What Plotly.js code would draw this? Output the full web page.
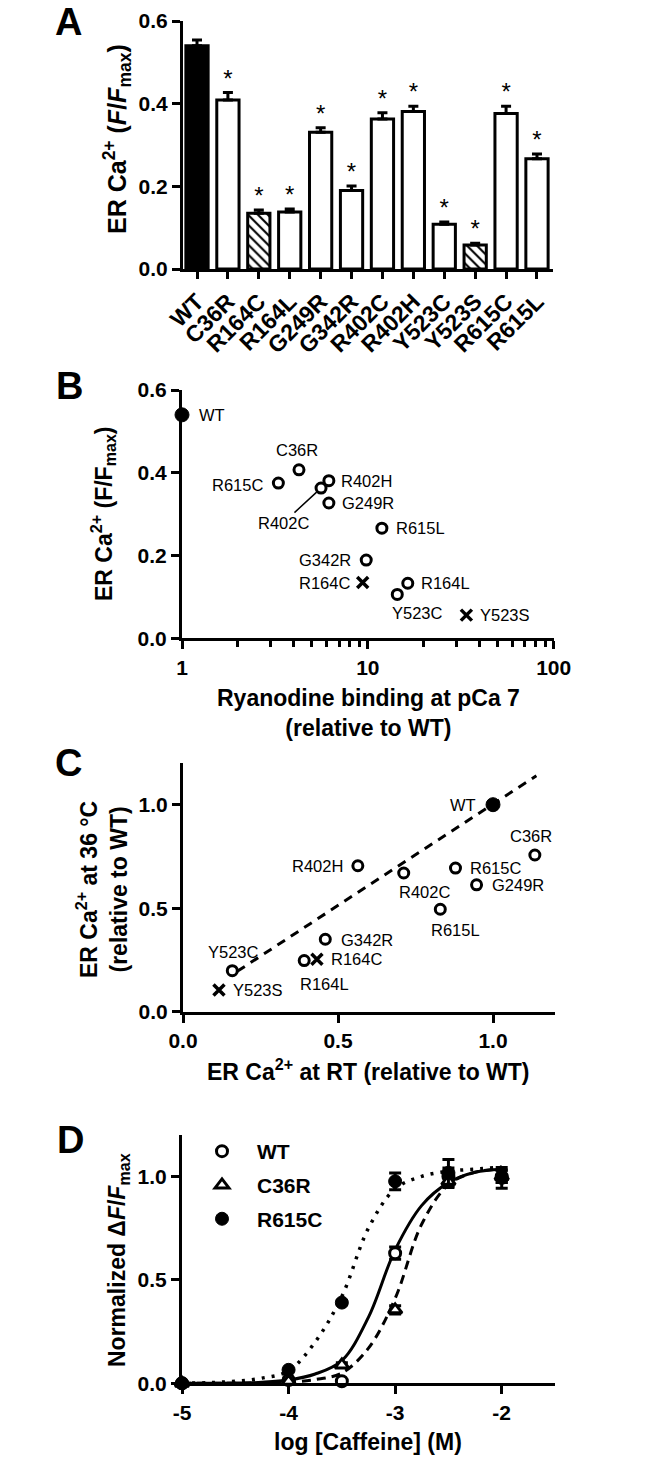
<!DOCTYPE html>
<html>
<head>
<meta charset="utf-8">
<script src="https://cdn.plot.ly/plotly-3.0.1.min.js"></script>
<style>
html,body{margin:0;padding:0;background:#ffffff;}
#chart{width:666px;height:1457px;}
</style>
</head>
<body>
<div id="chart"></div>
<script>
// ---------------- Panel A data ----------------
const categories = ['WT','C36R','R164C','R164L','G249R','G342R','R402C','R402H','Y523C','Y523S','R615C','R615L'];
const erCaRT     = [0.540,0.409,0.135,0.138,0.331,0.190,0.363,0.381,0.108,0.058,0.376,0.267];
const erCaRTsem  = [0.014,0.018,0.008,0.007,0.011,0.011,0.015,0.013,0.006,0.004,0.018,0.011];
const significant = [false,true,true,true,true,true,true,true,true,true,true,true];
const hatchedVariants = ['R164C','Y523S'];
const wildType = 'WT';

// ---------------- Panel B data ----------------
const variants   = ['WT','C36R','R615C','R402H','R402C','G249R','R615L','G342R','R164C','R164L','Y523C','Y523S'];
const ryrBinding = [1,4.26,3.3,6.17,5.6,6.17,11.9,9.8,9.38,16.4,14.4,33.9];
const erCaB      = [0.540,0.407,0.375,0.381,0.363,0.327,0.266,0.189,0.135,0.133,0.106,0.056];
const logMinorTicks = [2,3,4,5,6,7,8,9,20,30,40,50,60,70,80,90];

// ---------------- Panel C data ----------------
const erCaRTrel  = [1.0,1.135,0.879,0.564,0.712,0.947,0.830,0.459,0.432,0.391,0.159,0.116];
const erCa36rel  = [1.0,0.757,0.694,0.705,0.670,0.613,0.495,0.350,0.253,0.247,0.198,0.105];
const regressionX = [0.175,1.14];
const regressionY = [0.195,1.14];

// ---------------- Panel D data ----------------
const logCaffeine = [-5,-4,-3.5,-3,-2.5,-2];
const respWT      = [0,0.016,0.010,0.629,1.000,1.000];
const respWTsem   = [0,0.005,0.005,0.030,0.040,0.030];
const respC36R    = [0,0.010,0.089,0.355,0.976,1.000];
const respC36Rsem = [0,0.005,0.010,0.020,0.030,0.030];
const respR615C   = [0,0.065,0.390,0.976,1.017,0.993];
const respR615Csem= [0,0.005,0.010,0.040,0.065,0.050];
const fitLogCaf   = [-5,-4.75,-4.5,-4.25,-4,-3.75,-3.5,-3.25,-3,-2.75,-2.5,-2.25,-2];
const fitWT       = [0,0,0.001,0.005,0.016,0.045,0.110,0.320,0.645,0.860,0.970,1.020,1.035];
const fitC36R     = [0,0,0,0.002,0.006,0.018,0.050,0.170,0.410,0.770,0.960,1.020,1.035];
const fitR615C    = [0,0.003,0.010,0.025,0.060,0.200,0.420,0.750,0.940,1.000,1.025,1.035,1.045];
const xTickD = [-5,-4,-3,-2];
const xTickDText = ['-5','-4','-3','-2'];

// ---------------- styles ----------------
const W = 666, H = 1457;
const px = v => v / W;
const py = v => 1 - v / H;
const FONT = 'Liberation Sans, Arial, Helvetica, sans-serif';
const tickFont = {family: FONT, size: 21, color: '#000', weight: 700};
const titleFont = {family: FONT, size: 23, color: '#000', weight: 700};
const labelFont = {family: FONT, size: 16.5, color: '#000'};

const axisCommon = {
  showline: true, linewidth: 3, linecolor: '#000',
  ticks: 'outside', ticklen: 8, tickwidth: 3, tickcolor: '#000',
  showgrid: false, zeroline: false, tickfont: tickFont, fixedrange: true
};

function kindOf(v) {
  if (v === wildType) return 'filled';
  if (hatchedVariants.includes(v)) return 'cross';
  return 'open';
}
function pick(arr, kind) { return arr.filter((_, i) => kindOf(variants[i]) === kind); }

// label placement (pixel offsets) for panels B and C
const placeB = {
  WT:[15,0,'left'], C36R:[-2,20,'center'], R615C:[-13,-2,'right'], R402H:[10,0,'left'],
  G249R:[11,0,'left'], R615L:[12,0,'left'], G342R:[-13,0,'right'], R164C:[-11,-1,'right'],
  R164L:[11,0,'left'], Y523C:[20,-19,'center'], Y523S:[12,0,'left']
};
const placeC = {
  WT:[-15,0,'right'], C36R:[-4,19,'center'], R615C:[13,0,'left'], R402H:[-13,0,'right'],
  R402C:[21,-19,'center'], G249R:[13,0,'left'], R615L:[15,-21,'center'], G342R:[14,-1,'left'],
  R164C:[12,0,'left'], R164L:[20,-23,'center'], Y523C:[1,19,'center'], Y523S:[12,0,'left']
};

const traces = [];

// ---- Panel A bars (plain and hatched as two overlaid traces) ----
const isHatched = categories.map(c => hatchedVariants.includes(c));
const sel = (arr, want) => arr.filter((_, i) => isHatched[i] === want);
traces.push({
  type: 'bar', x: sel(categories, false), y: sel(erCaRT, false), xaxis: 'x', yaxis: 'y',
  width: 0.72,
  marker: {
    color: sel(categories, false).map(c => c === wildType ? '#000' : '#fff'),
    line: {color: '#000', width: 3}
  },
  error_y: {type: 'data', array: sel(erCaRTsem, false), arrayminus: sel(erCaRTsem, false).map(() => 0),
            symmetric: false, color: '#000', thickness: 3, width: 5},
  showlegend: false, hoverinfo: 'skip'
});
traces.push({
  type: 'bar', x: sel(categories, true), y: sel(erCaRT, true), xaxis: 'x', yaxis: 'y',
  width: 0.72,
  marker: {
    color: '#fff',
    line: {color: '#000', width: 3},
    pattern: {shape: '\\', fgcolor: '#000', bgcolor: '#fff', size: 7, solidity: 0.3, fillmode: 'replace'}
  },
  error_y: {type: 'data', array: sel(erCaRTsem, true), arrayminus: sel(erCaRTsem, true).map(() => 0),
            symmetric: false, color: '#000', thickness: 3, width: 5},
  showlegend: false, hoverinfo: 'skip'
});
traces.push({
  type: 'scatter', mode: 'text', xaxis: 'x', yaxis: 'y',
  x: categories.filter((c, i) => significant[i]),
  y: erCaRT.map((v, i) => v + erCaRTsem[i]).filter((v, i) => significant[i]),
  text: categories.filter((c, i) => significant[i]).map(() => '*'),
  textposition: 'top center',
  textfont: {family: FONT, size: 24, color: '#000'},
  cliponaxis: false, showlegend: false, hoverinfo: 'skip'
});

// ---- Panels B and C scatter ----
const kindStyle = {
  filled: {symbol: 'circle', color: '#000', size: 14, line: {color: '#000', width: 1}},
  open:   {symbol: 'circle', color: '#fff', size: 10, line: {color: '#000', width: 3}},
  cross:  {symbol: 'x-thin-open', color: '#000', size: 11, line: {color: '#000', width: 3.5}}
};
['open', 'cross', 'filled'].forEach(kind => {
  traces.push({
    type: 'scatter', mode: 'markers', xaxis: 'x2', yaxis: 'y2',
    x: pick(ryrBinding, kind), y: pick(erCaB, kind),
    marker: kindStyle[kind], cliponaxis: false, showlegend: false, hoverinfo: 'skip'
  });
});
traces.push({
  type: 'scatter', mode: 'lines', xaxis: 'x3', yaxis: 'y3',
  x: regressionX, y: regressionY,
  line: {color: '#000', width: 3, dash: '9px,7px'},
  showlegend: false, hoverinfo: 'skip'
});
['open', 'cross', 'filled'].forEach(kind => {
  traces.push({
    type: 'scatter', mode: 'markers', xaxis: 'x3', yaxis: 'y3',
    x: pick(erCaRTrel, kind), y: pick(erCa36rel, kind),
    marker: kindStyle[kind], cliponaxis: false, showlegend: false, hoverinfo: 'skip'
  });
});

// ---- Panel D ----
traces.push({type:'scatter', mode:'lines', xaxis:'x4', yaxis:'y4', x: fitLogCaf, y: fitR615C,
  line:{color:'#000', width:3.5, dash:'3px,7px', shape:'spline'}, showlegend:false, hoverinfo:'skip', cliponaxis:false});
traces.push({type:'scatter', mode:'lines', xaxis:'x4', yaxis:'y4', x: fitLogCaf, y: fitC36R,
  line:{color:'#000', width:3, dash:'9px,6px', shape:'spline'}, showlegend:false, hoverinfo:'skip', cliponaxis:false});
traces.push({type:'scatter', mode:'lines', xaxis:'x4', yaxis:'y4', x: fitLogCaf, y: fitWT,
  line:{color:'#000', width:3, shape:'spline'}, showlegend:false, hoverinfo:'skip', cliponaxis:false});

const errStyle = {type:'data', color:'#000', thickness:3, width:6};
traces.push({type:'scatter', mode:'markers', name:'WT', legendgroup:'a', xaxis:'x4', yaxis:'y4',
  x: logCaffeine, y: respWT, error_y: Object.assign({array: respWTsem}, errStyle),
  marker:{symbol:'circle', size:11, color:'#fff', line:{color:'#000', width:3}}, cliponaxis:false, hoverinfo:'skip'});
traces.push({type:'scatter', mode:'markers', name:'C36R', legendgroup:'b', xaxis:'x4', yaxis:'y4',
  x: logCaffeine, y: respC36R, error_y: Object.assign({array: respC36Rsem}, errStyle),
  marker:{symbol:'triangle-up', size:12, color:'#fff', line:{color:'#000', width:3}}, cliponaxis:false, hoverinfo:'skip'});
traces.push({type:'scatter', mode:'markers', name:'R615C', legendgroup:'c', xaxis:'x4', yaxis:'y4',
  x: logCaffeine, y: respR615C, error_y: Object.assign({array: respR615Csem}, errStyle),
  marker:{symbol:'circle', size:13, color:'#000', line:{color:'#000', width:1}}, cliponaxis:false, hoverinfo:'skip'});

// ---------------- annotations ----------------
const ann = [];
function letter(t, x, y) {
  ann.push({text: '<b>' + t + '</b>', xref:'paper', yref:'paper', x: px(x), y: py(y),
    xanchor:'center', yanchor:'middle', showarrow:false, font:{family: FONT, size: 38, color:'#000'}});
}
letter('A', 68, 22); letter('B', 69, 386); letter('C', 68, 763); letter('D', 70, 1140);

function ytitle(t, x, y, size) {
  ann.push({text: t, xref:'paper', yref:'paper', x: px(x), y: py(y), textangle: -90,
    xanchor:'center', yanchor:'middle', showarrow:false,
    font: Object.assign({}, titleFont, size ? {size: size} : {})});
}
function xtitle(t, x, y) {
  ann.push({text: t, xref:'paper', yref:'paper', x: px(x), y: py(y),
    xanchor:'center', yanchor:'middle', showarrow:false, font: titleFont});
}
ytitle('ER Ca<sup>2+</sup> (<i>F</i>/<i>F</i><sub>max</sub>)', 117, 139, 25);
ytitle('ER Ca<sup>2+</sup> (F/F<sub>max</sub>)', 103, 514);
ytitle('ER Ca<sup>2+</sup> at 36 °C<br>(relative to WT)', 102, 890);
ytitle('Normalized Δ<i>F</i>/<i>F</i><sub>max</sub>', 118, 1260);
xtitle('Ryanodine binding at pCa 7<br>(relative to WT)', 368, 713);
xtitle('ER Ca<sup>2+</sup> at RT (relative to WT)', 368, 1070);
xtitle('log [Caffeine] (M)', 368, 1442);

// point labels B
variants.forEach((v, i) => {
  if (v === 'R402C') {
    ann.push({text: v, xref:'x2', yref:'y2', x: Math.log10(ryrBinding[i]), y: erCaB[i],
      showarrow: true, arrowhead: 0, arrowwidth: 1.5, arrowcolor:'#000', ax: -38, ay: 35,
      standoff: 6, font: labelFont});
    return;
  }
  const p = placeB[v];
  ann.push({text: v, xref:'x2', yref:'y2', x: Math.log10(ryrBinding[i]), y: erCaB[i],
    xshift: p[0], yshift: p[1], xanchor: p[2], yanchor:'middle', showarrow:false, font: labelFont});
});
// point labels C
variants.forEach((v, i) => {
  const p = placeC[v];
  ann.push({text: v, xref:'x3', yref:'y3', x: erCaRTrel[i], y: erCa36rel[i],
    xshift: p[0], yshift: p[1], xanchor: p[2], yanchor:'middle', showarrow:false, font: labelFont});
});

const layout = {
  width: W, height: H,
  margin: {l:0, r:0, t:0, b:0},
  paper_bgcolor:'#fff', plot_bgcolor:'#fff',
  font: {family: FONT, color:'#000'},
  showlegend: true,
  barmode: 'overlay',
  legend: {x: px(187), y: py(1131), xanchor:'left', yanchor:'top', bgcolor:'rgba(0,0,0,0)',
           font: {family: FONT, size: 21, color:'#000', weight: 700}, tracegroupgap: 3.5,
           traceorder:'grouped', itemwidth: 60},
  xaxis: Object.assign({}, axisCommon, {domain: [px(183), px(553)], anchor:'y', type:'category',
           categoryorder: 'array', categoryarray: categories,
           range: [-0.453, 11.518], tickangle: -45, ticklen: 7,
           tickfont: {family: FONT, size: 23, color: '#000', weight: 700}}),
  yaxis: Object.assign({}, axisCommon, {domain: [py(269), py(21)], anchor:'x', range:[0, 0.6],
           tickvals:[0, 0.2, 0.4, 0.6], tickformat:'.1f'}),
  xaxis2: Object.assign({}, axisCommon, {domain: [px(182), px(553.7)], anchor:'y2', type:'log',
           range:[0, 2], tickvals:[1, 10, 100], ticktext:['1','10','100'],
           minor: {tickvals: logMinorTicks, ticks:'outside', ticklen: 6, tickwidth: 3, tickcolor:'#000', showgrid:false}}),
  yaxis2: Object.assign({}, axisCommon, {domain: [py(638.3), py(390)], anchor:'x2', range:[0, 0.6],
           tickvals:[0, 0.2, 0.4, 0.6], tickformat:'.1f'}),
  xaxis3: Object.assign({}, axisCommon, {domain: [px(183), px(555)], anchor:'y3', range:[0, 1.2],
           tickvals:[0, 0.5, 1.0], tickformat:'.1f'}),
  yaxis3: Object.assign({}, axisCommon, {domain: [py(1011.7), py(763.3)], anchor:'x3', range:[0, 1.2],
           tickvals:[0, 0.5, 1.0], tickformat:'.1f'}),
  xaxis4: Object.assign({}, axisCommon, {domain: [px(182), px(555)], anchor:'y4', range:[-5, -1.5],
           tickvals: xTickD, ticktext: xTickDText}),
  yaxis4: Object.assign({}, axisCommon, {domain: [py(1383.3), py(1135)], anchor:'x4', range:[0, 1.2],
           tickvals:[0, 0.5, 1.0], tickformat:'.1f'}),
  annotations: ann
};

Plotly.newPlot('chart', traces, layout, {staticPlot: true, displayModeBar: false});
</script>
</body>
</html>
